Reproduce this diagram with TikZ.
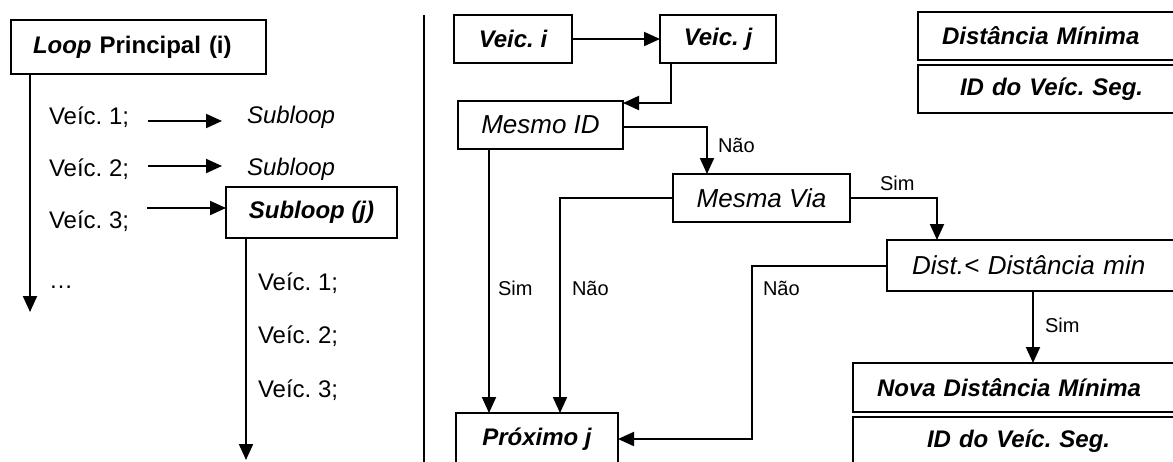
\documentclass[tikz,border=0pt]{standalone}
\usepackage{fontspec}
\setmainfont{Liberation Sans}
\usetikzlibrary{arrows.meta,calc}
\frenchspacing

\begin{document}
\begin{tikzpicture}[x=1pt,y=-1pt,
  every node/.style={inner sep=0pt, outer sep=0pt},
  box/.style={draw, line width=2.5pt},
  arr/.style={line width=2pt, -{Triangle[length=16pt,width=14pt]}},
  f24/.style={font=\fontsize{24}{28}\selectfont},
  it24/.style={font=\fontsize{24}{28}\selectfont\itshape},
  f26/.style={font=\fontsize{26}{30}\selectfont\itshape},
  bi/.style={font=\fontsize{24}{28}\selectfont\bfseries\itshape},
  lab/.style={font=\fontsize{20}{24}\selectfont, anchor=base west},
]
\useasboundingbox (0,0) rectangle (1173,461);
\clip (0,0) rectangle (1173,461);

% ---------- main loop and subloop ----------
\node[box, bi, minimum width=255pt, minimum height=54pt, text width=211pt,
      inner xsep=22pt, align=left] (loop) at (138.5,47)
      {Loop\textup{ Principal (i)}};

\node[f24, anchor=base west] (v1) at (49,124) {Veíc. 1;};
\node[f24, anchor=base west] (v2) at (49,176.5) {Veíc. 2;};
\node[f24, anchor=base west] (v3) at (49,228) {Veíc. 3;};
\node[f24, anchor=base west] (vd) at (49,288) {…};

\node[it24, anchor=base west] (s1) at (247,123) {Subloop};
\node[it24, anchor=base west] (s2) at (247,175) {Subloop};
\node[box, bi, minimum width=171pt, minimum height=51pt] (sub) at (311.5,212.5) {Subloop (j)};

\node[f24, anchor=base west] (w1) at (258,290) {Veíc. 1;};
\node[f24, anchor=base west] (w2) at (258,343) {Veíc. 2;};
\node[f24, anchor=base west] (w3) at (258,397) {Veíc. 3;};

\coordinate (mainend) at (30,312);
\draw[arr] (loop.south -| mainend) -- (mainend);

\coordinate (a1) at ([xshift=19pt,yshift=3pt]v1.base east);
\coordinate (b1) at ([xshift=-25pt]s1.west);
\draw[arr] (a1) -- (a1 -| b1);
\coordinate (a2) at ([xshift=19pt,yshift=10.5pt]v2.base east);
\coordinate (b2) at ([xshift=-25pt]s2.west);
\draw[arr] (a2) -- (a2 -| b2);
\coordinate (a3) at ([xshift=18pt,yshift=20pt]v3.base east);
\draw[arr] (a3) -- (a3 -| sub.west);

\coordinate (subend) at (246,460);
\draw[arr] (sub.south -| subend) -- (subend);

% ---------- separator ----------
\coordinate (divtop) at (424,15);
\coordinate (divbot) at (424,470);
\draw[line width=1.4pt] (divtop) -- (divbot);

% ---------- flowchart of the subloop ----------
\node[box, bi, minimum width=118pt, minimum height=48pt] (vi) at (513,39) {Veic. i};
\node[box, bi, minimum width=116pt, minimum height=48pt] (vj) at (718,39) {Veic. j};
\node[box, f26, minimum width=165pt, minimum height=48pt] (mid) at (540.5,125) {Mesmo ID};
\node[box, f26, minimum width=177pt, minimum height=48pt] (via) at (761.5,198) {Mesma Via};
\node[box, bi, minimum width=162pt, minimum height=52pt] (prox) at (537,439) {Próximo j};

\node[box, f26, anchor=north west, minimum height=51pt, text width=263pt,
      inner xsep=25pt, align=left] (dist) at (887,240) {Dist.< Distância min};
\node[box, bi, anchor=north west, minimum height=49pt, text width=299pt,
      inner xsep=24pt, align=left] (nova) at (853,363) {Nova Distância Mínima};
\node[box, bi, anchor=north west, minimum height=48pt, text width=199pt,
      inner xsep=74pt, align=left] (idb) at (853,417) {ID do Veíc. Seg.};

\node[box, bi, anchor=north west, minimum height=48pt, text width=234pt,
      inner xsep=24pt, align=left] (dmin) at (918,12) {Distância Mínima};
\node[box, bi, anchor=north west, minimum height=48pt, text width=198pt,
      inner xsep=42pt, align=left] (idt) at (918,65) {ID do Veíc. Seg.};

\draw[arr] (vi.east) -- (vj.west);
\coordinate (c1) at ([xshift=11pt]vj.south west);
\draw[arr] (c1) |- ([yshift=-2pt]mid.north east);

\draw[arr] ([yshift=-2pt]mid.east) -| ([xshift=34pt]via.north west);
\node[lab] (l1) at (718,152) {Não};

\coordinate (c2) at ([xshift=31pt]mid.south west);
\draw[arr] (c2) -- (c2 |- prox.north);
\node[lab] (l2) at (498,295) {Sim};

\coordinate (c3) at ([xshift=104pt]prox.north west);
\draw[arr] (via.west) -| (c3);
\node[lab] (l3) at (572,295) {Não};

\draw[arr] (via.east) -| ([xshift=50pt]dist.north west);
\node[lab] (l4) at (880,190) {Sim};

\coordinate (c4) at (752,350);
\draw[arr] (dist.west) -| (c4) |- (prox.east);
\node[lab] (l5) at (763,295) {Não};

\coordinate (c5) at (1033,330);
\draw[arr] (dist.south -| c5) -- (nova.north -| c5);
\node[lab] (l6) at (1045,332) {Sim};
\end{tikzpicture}
\end{document}
